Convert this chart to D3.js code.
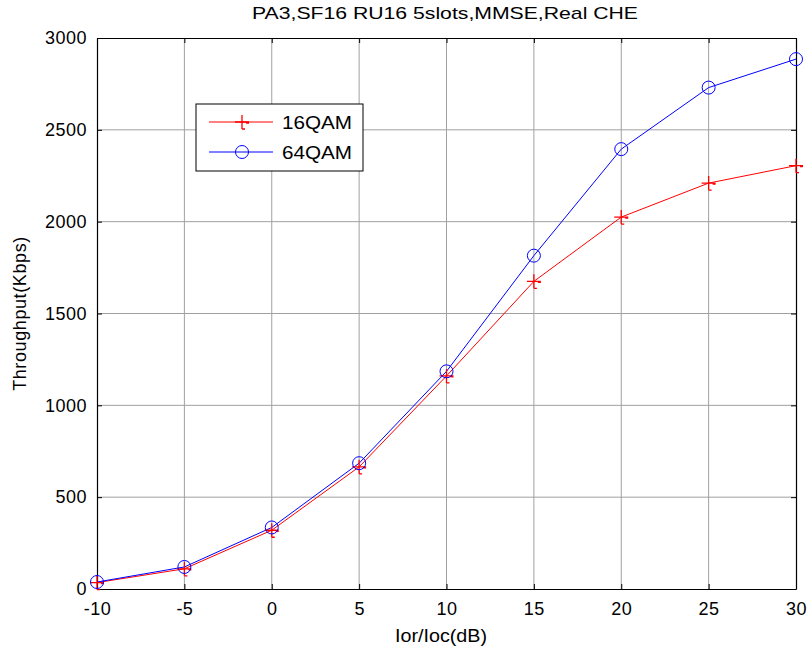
<!DOCTYPE html>
<html lang="en">
<head>
    <meta charset="utf-8">
    <script src="https://cdn.jsdelivr.net/npm/d3@7"></script>
    <style type="text/css">
        body { margin: 0; background: #fff; }
        text { font-family: "Liberation Sans", Arial, sans-serif; }
    </style>
</head>
<body>
    <script>
        // data
        let snr = [-10, -5, 0, 5, 10, 15, 20, 25, 30];
        let qam16 = [35, 110, 320, 665, 1160, 1675, 2025, 2210, 2305];
        let qam64 = [38, 120, 335, 685, 1185, 1815, 2395, 2730, 2885];
        let yTicks = [0, 500, 1000, 1500, 2000, 2500, 3000];
        let seriesNames = ["16QAM", "64QAM"];

        let w = 810, h = 655;
        let padL = 97, padR = 796, padT = 38, padB = 589;

        let svg = d3.select("body").append("svg")
                    .attr("width", w)
                    .attr("height", h);

        let xScale = d3.scaleLinear().domain([-10, 30]).range([padL, padR]);
        let yScale = d3.scaleLinear().domain([0, 3000]).range([padB, padT]);

        // grid
        svg.append("g").selectAll("line")
            .data(snr.slice(1, -1))
            .enter().append("line")
            .attr("x1", d => xScale(d)).attr("x2", d => xScale(d))
            .attr("y1", padT).attr("y2", padB)
            .attr("stroke", "#a0a0a0").attr("stroke-width", 1);
        svg.append("g").selectAll("line")
            .data(yTicks.slice(1, -1))
            .enter().append("line")
            .attr("x1", padL).attr("x2", padR)
            .attr("y1", d => yScale(d)).attr("y2", d => yScale(d))
            .attr("stroke", "#a0a0a0").attr("stroke-width", 1);

        // axes (ticks inward like matlab)
        let fmt = d => String(d);
        let xAxis = d3.axisBottom(xScale).tickValues(snr).tickSizeInner(-5).tickSizeOuter(0)
                        .tickPadding(13).tickFormat(fmt);
        let xAxisTop = d3.axisTop(xScale).tickValues(snr).tickSizeInner(-5).tickSizeOuter(0).tickFormat("");
        let yAxis = d3.axisLeft(yScale).tickValues(yTicks).tickSizeInner(-5).tickSizeOuter(0)
                        .tickPadding(10).tickFormat(fmt);
        let yAxisRight = d3.axisRight(yScale).tickValues(yTicks).tickSizeInner(-5).tickSizeOuter(0).tickFormat("");

        let gx = svg.append("g").attr("transform", "translate(0," + padB + ")").call(xAxis);
        svg.append("g").attr("transform", "translate(0," + padT + ")").call(xAxisTop);
        let gy = svg.append("g").attr("transform", "translate(" + padL + ",0)").call(yAxis);
        svg.append("g").attr("transform", "translate(" + padR + ",0)").call(yAxisRight);

        svg.selectAll(".domain").attr("stroke", "#000").attr("stroke-width", 1.2);
        svg.selectAll(".tick line").attr("stroke", "#000");
        svg.selectAll(".tick text").attr("fill", "#000")
            .style("font-size", "18px")
            .style("letter-spacing", "0.5px")
            .style("font-family", "'Liberation Sans', Arial, sans-serif");
        gx.selectAll(".tick text").attr("dy", "0.71em");

        // lines
        let line = d3.line().x((d, i) => xScale(snr[i])).y(d => yScale(d));

        svg.append("path").datum(qam16)
            .attr("d", line).attr("fill", "none")
            .attr("stroke", "#ff0000").attr("stroke-width", 1);
        svg.append("path").datum(qam64)
            .attr("d", line).attr("fill", "none")
            .attr("stroke", "#0000ff").attr("stroke-width", 1);

        // markers
        let plus = (g, x, y) => {
            g.append("path")
                .attr("d", "M" + (x - 7) + "," + y + "H" + (x + 7) + "M" + x + "," + (y - 7) + "V" + (y + 7)
                    + "M" + (x + 4) + "," + (y + 1) + "h3" + "M" + (x) + "," + (y + 7) + "h3")
                .attr("stroke", "#ff0000").attr("stroke-width", 1.3).attr("fill", "none");
        };
        let marks16 = svg.append("g");
        qam16.forEach((d, i) => plus(marks16, xScale(snr[i]), yScale(d)));

        svg.append("g").selectAll("circle")
            .data(qam64)
            .enter().append("circle")
            .attr("cx", (d, i) => xScale(snr[i]))
            .attr("cy", d => yScale(d))
            .attr("r", 6.5)
            .attr("fill", "none")
            .attr("stroke", "#0000ff").attr("stroke-width", 1);

        // legend
        let lg = svg.append("g");
        lg.append("rect").attr("x", 196).attr("y", 104).attr("width", 167).attr("height", 67)
            .attr("fill", "#fff").attr("stroke", "#000").attr("stroke-width", 1);
        let rows = [122, 152];
        let colors = ["#ff0000", "#0000ff"];
        rows.forEach((ry, i) => {
            lg.append("line").attr("x1", 209).attr("x2", 273).attr("y1", ry).attr("y2", ry)
                .attr("stroke", colors[i]).attr("stroke-width", 1);
            lg.append("text").attr("x", 282).attr("y", ry + 7)
                .attr("textLength", 70).attr("lengthAdjust", "spacingAndGlyphs")
                .style("font-size", "19px").text(seriesNames[i]);
        });
        plus(lg, 242, rows[0]);
        lg.append("circle").attr("cx", 242).attr("cy", rows[1]).attr("r", 6.5)
            .attr("fill", "none").attr("stroke", "#0000ff");

        // titles
        svg.append("text").attr("x", 252).attr("y", 19)
            .attr("textLength", 386).attr("lengthAdjust", "spacingAndGlyphs")
            .style("font-size", "17px")
            .text("PA3,SF16 RU16 5slots,MMSE,Real CHE");
        svg.append("text").attr("x", 395).attr("y", 642)
            .attr("textLength", 92).attr("lengthAdjust", "spacingAndGlyphs")
            .style("font-size", "18px")
            .text("Ior/Ioc(dB)");
        svg.append("text")
            .attr("transform", "translate(26," + ((padT + padB) / 2) + ") rotate(-90)")
            .attr("text-anchor", "middle").style("font-size", "18px")
            .style("letter-spacing", "0.6px")
            .text("Throughput(Kbps)");
    </script>
</body>
</html>
